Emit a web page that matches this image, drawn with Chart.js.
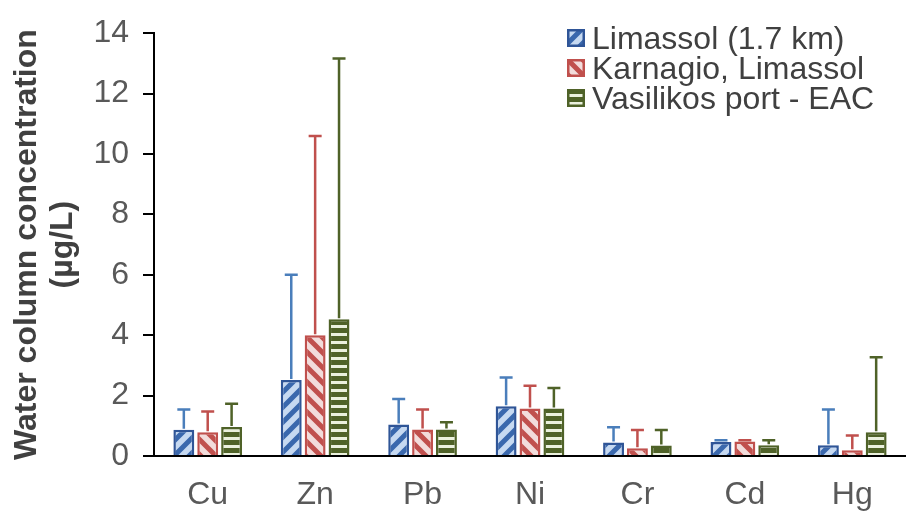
<!DOCTYPE html>
<html>
<head>
<meta charset="utf-8">
<script src="https://cdn.jsdelivr.net/npm/chart.js@4/dist/chart.umd.min.js"></script>
<style>
  html, body { margin: 0; padding: 0; background: #fff; }
  #wrap { position: relative; width: 906px; height: 513px; }
  #legend { position: absolute; left: 567px; top: 23px; font: 32px "Liberation Sans", Arial, sans-serif; color: #404040; }
  .row { display: flex; align-items: center; height: 30px; white-space: nowrap; }
  .row canvas { margin-right: 7px; }
</style>
</head>
<body>
<div id="wrap">
  <canvas id="chart" width="906" height="513"></canvas>
  <div id="legend"></div>
</div>
<script>
// ===== Data =====
const metals = ['Cu', 'Zn', 'Pb', 'Ni', 'Cr', 'Cd', 'Hg'];
const siteNames = ['Limassol (1.7 km)', 'Karnagio, Limassol', 'Vasilikos port - EAC'];

const limassolMean  = [0.87, 2.52, 1.04, 1.65, 0.45, 0.46, 0.36];
const limassolUpper = [1.54, 6.00, 1.89, 2.60, 0.95, 0.52, 1.54];
const karnagioMean  = [0.79, 4.00, 0.88, 1.57, 0.26, 0.48, 0.19];
const karnagioUpper = [1.47, 10.6, 1.54, 2.33, 0.86, 0.52, 0.68];
const vasilikosMean  = [0.96, 4.53, 0.88, 1.57, 0.35, 0.36, 0.79];
const vasilikosUpper = [1.73, 13.16, 1.12, 2.25, 0.86, 0.52, 3.27];

const yMin = 0, yMax = 14, yStep = 2;

const FONT = '"Liberation Sans", Arial, sans-serif';

// ===== Fill patterns =====
function makePattern(bg, fg, kind) {
  const c = document.createElement('canvas');
  const s = kind === 'h' ? 8 : 15;
  c.width = s; c.height = s;
  const g = c.getContext('2d');
  g.fillStyle = bg;
  g.fillRect(0, 0, s, s);
  g.fillStyle = fg;
  g.strokeStyle = fg;
  if (kind === 'h') {
    g.fillRect(0, 0, s, 5);
  } else {
    g.lineWidth = 5;
    g.beginPath();
    if (kind === '/') {
      g.moveTo(-s, s); g.lineTo(s, -s);
      g.moveTo(0, s); g.lineTo(s, 0);
      g.moveTo(0, 2 * s); g.lineTo(2 * s, 0);
    } else {
      g.moveTo(0, -s); g.lineTo(2 * s, s);
      g.moveTo(0, 0); g.lineTo(s, s);
      g.moveTo(-s, 0); g.lineTo(s, 2 * s);
    }
    g.stroke();
  }
  return g.createPattern(c, 'repeat');
}

const styles = [
  { bg: '#c6d9f1', fg: '#3a68ad', border: '#2f5597', err: '#4a7ebb', kind: '/' },
  { bg: '#f2dcdb', fg: '#c0504d', border: '#c0504d', err: '#c0504d', kind: '\\' },
  { bg: '#ebf1de', fg: '#4f6228', border: '#4f6228', err: '#4f6228', kind: 'h' }
];
const means = [limassolMean, karnagioMean, vasilikosMean];
const uppers = [limassolUpper, karnagioUpper, vasilikosUpper];

// ===== Error bars (upper only) =====
const errorBars = {
  id: 'errorBars',
  afterDatasetsDraw(chart) {
    const ctx = chart.ctx;
    const y = chart.scales.y;
    chart.data.datasets.forEach((ds, i) => {
      const meta = chart.getDatasetMeta(i);
      ctx.save();
      ctx.strokeStyle = styles[i].err;
      ctx.lineWidth = 2.5;
      meta.data.forEach((bar, j) => {
        const top = y.getPixelForValue(uppers[i][j]);
        ctx.beginPath();
        ctx.moveTo(bar.x, bar.y - 1);
        ctx.lineTo(bar.x, top);
        ctx.moveTo(bar.x - 6.5, top);
        ctx.lineTo(bar.x + 6.5, top);
        ctx.stroke();
      });
      ctx.restore();
    });
  }
};

// ===== Chart =====
const ctx = document.getElementById('chart').getContext('2d');
new Chart(ctx, {
  type: 'bar',
  data: {
    labels: metals,
    datasets: siteNames.map((name, i) => ({
      label: name,
      data: means[i],
      backgroundColor: makePattern(styles[i].bg, styles[i].fg, styles[i].kind),
      borderColor: styles[i].border,
      borderWidth: 2.5,
      categoryPercentage: 0.667,
      barPercentage: 0.875
    }))
  },
  options: {
    responsive: false,
    animation: false,
    layout: { padding: { top: 24, right: -4, bottom: 0, left: 0 } },
    plugins: { legend: { display: false }, tooltip: { enabled: false } },
    scales: {
      x: {
        grid: { display: false, drawTicks: false },
        border: { color: '#000', width: 2 },
        ticks: { color: '#595959', font: { family: FONT, size: 32 }, padding: 20 },
        afterFit(s) { s.height = 57; }
      },
      y: {
        min: yMin,
        max: yMax,
        ticks: { stepSize: yStep, color: '#595959', font: { family: FONT, size: 32 }, padding: 14 },
        grid: { drawOnChartArea: false, drawTicks: true, tickLength: 11, color: '#000', lineWidth: 2 },
        border: { color: '#000', width: 2 },
        title: {
          display: true,
          text: ['Water column concentration', '(\u00b5g/L)'],
          color: '#404040',
          font: { family: FONT, size: 32, weight: 'bold', lineHeight: 1.125 },
          padding: { top: 9, bottom: 0 }
        },
        afterFit(s) { s.width = 154; }
      }
    }
  },
  plugins: [errorBars]
});

// ===== Legend =====
const legend = document.getElementById('legend');
siteNames.forEach((name, i) => {
  const row = document.createElement('div');
  row.className = 'row';
  const sw = document.createElement('canvas');
  sw.width = 18; sw.height = 18;
  const g = sw.getContext('2d');
  g.fillStyle = makePattern(styles[i].bg, styles[i].fg, styles[i].kind);
  g.fillRect(0, 0, 18, 18);
  g.strokeStyle = styles[i].border;
  g.lineWidth = 2.5;
  g.strokeRect(1.25, 1.25, 15.5, 15.5);
  row.appendChild(sw);
  row.appendChild(document.createTextNode(name));
  legend.appendChild(row);
});
</script>
</body>
</html>
